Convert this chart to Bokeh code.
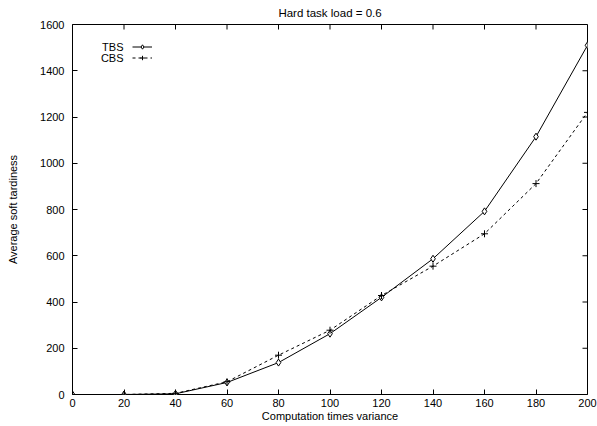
from bokeh.plotting import figure
from bokeh.models import Range1d, Legend, LegendItem, FixedTicker, Label
from bokeh.embed import file_html
from bokeh.resources import INLINE

x_values = [0, 20, 40, 60, 80, 100, 120, 140, 160, 180, 200]
tbs = [0, 0, 3, 52, 138, 263, 420, 587, 792, 1115, 1510]
cbs = [0, 0, 5, 55, 170, 278, 428, 555, 695, 912, 1220]
x_ticks = [0, 20, 40, 60, 80, 100, 120, 140, 160, 180, 200]
y_ticks = [0, 200, 400, 600, 800, 1000, 1200, 1400, 1600]
series_names = ["TBS", "CBS"]

FONT = "Liberation Sans"
X_MIN, X_MAX = 0, 200
Y_MIN, Y_MAX = 0, 1600
FRAME_W, FRAME_H = 515, 370
TICK_PX = 5

p = figure(frame_width=FRAME_W, frame_height=FRAME_H,
           x_range=Range1d(X_MIN, X_MAX), y_range=Range1d(Y_MIN, Y_MAX),
           output_backend="svg", toolbar_location=None,
           title="Hard task load = 0.6",
           min_border_left=72, min_border_right=10, min_border_top=24, min_border_bottom=30)

p.title.text_font = FONT
p.title.text_font_size = "11.5px"
p.title.text_font_style = "normal"
p.title.text_color = "black"
p.title.align = "center"
p.title.vertical_align = "top"
p.title.standoff = 7

p.xgrid.visible = False
p.ygrid.visible = False
p.outline_line_color = "black"
p.outline_line_width = 1
p.background_fill_color = "white"
p.border_fill_color = "white"

def style_axis(ax, ticks):
    ax.ticker = FixedTicker(ticks=ticks)
    ax.axis_line_color = None
    ax.major_tick_in = TICK_PX
    ax.major_tick_out = 0
    ax.major_tick_line_color = "black"
    ax.minor_tick_line_color = None
    ax.major_label_text_font = FONT
    ax.major_label_text_font_size = "11px"
    ax.major_label_text_color = "black"
    ax.axis_label_text_font = FONT
    ax.axis_label_text_font_size = "11px"
    ax.axis_label_text_font_style = "normal"
    ax.axis_label_text_color = "black"

style_axis(p.xaxis[0], x_ticks)
style_axis(p.yaxis[0], y_ticks)
p.xaxis[0].axis_label = "Computation times variance"
p.xaxis[0].major_label_standoff = 4
p.xaxis[0].axis_label_standoff = 0
p.yaxis[0].axis_label = "Average soft tardiness"
p.yaxis[0].major_label_standoff = 8
p.yaxis[0].axis_label_standoff = 18

# mirrored ticks on top and right edges (tick length converted from pixels to data units)
dy = TICK_PX * (Y_MAX - Y_MIN) / FRAME_H
dx = TICK_PX * (X_MAX - X_MIN) / FRAME_W
p.segment(x0=x_ticks, y0=[Y_MAX] * len(x_ticks), x1=x_ticks, y1=[Y_MAX - dy] * len(x_ticks),
          line_color="black", line_width=1)
p.segment(x0=[X_MAX] * len(y_ticks), y0=y_ticks, x1=[X_MAX - dx] * len(y_ticks), y1=y_ticks,
          line_color="black", line_width=1)

r1 = p.line(x_values, tbs, line_color="black", line_width=1)
m1 = p.scatter(x_values, tbs, marker="diamond", size=7, fill_color="white", line_color="black", line_width=1)
r2 = p.line(x_values, cbs, line_color="black", line_width=1, line_dash="3 3")
m2 = p.scatter(x_values, cbs, marker="cross", size=7, line_color="black", line_width=1)

# legend: glyph samples only; names are drawn right-aligned to their left (gnuplot style)
legend = Legend(items=[LegendItem(label="", renderers=[r1, m1]),
                       LegendItem(label="", renderers=[r2, m2])],
                location=(60, 331))
legend.border_line_color = None
legend.background_fill_alpha = 0
legend.label_text_font_size = "6px"
legend.label_height = 11
legend.glyph_height = 11
legend.glyph_width = 20
legend.label_width = 0
legend.spacing = 0
legend.padding = 0
legend.margin = 0
legend.label_standoff = 0
p.add_layout(legend, "center")

for i, name in enumerate(series_names):
    p.add_layout(Label(x=51, y=FRAME_H - 22 - 11 * i, x_units="screen", y_units="screen",
                       text=name, text_align="right", text_baseline="middle",
                       text_font=FONT, text_font_size="11px", text_color="black"))

open("out.html", "w").write(file_html(p, INLINE))
